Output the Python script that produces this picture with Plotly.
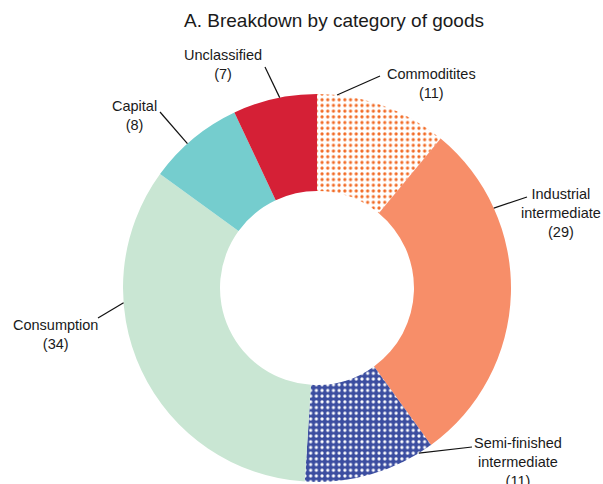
import math
import plotly.graph_objects as go

# Share of goods by category (per cent), drawn clockwise from 12 o'clock
categories = ["Commoditites", "Industrial intermediate", "Semi-finished intermediate",
              "Consumption", "Capital", "Unclassified"]
shares = [11, 29, 11, 34, 8, 7]
label_lines = [["Commoditites"], ["Industrial", "intermediate"], ["Semi-finished", "intermediate"],
               ["Consumption"], ["Capital"], ["Unclassified"]]

# Styling
W, H = 603, 484
slice_colors = ["#FFFFFF", "#F78E69", "#3B4DA0", "#C9E6D3", "#75CDCE", "#D52036"]
pattern_shapes = [".", "", ".", "", "", ""]
pattern_fg = ["#F26A24", "#F78E69", "#FFFFFF", "#C9E6D3", "#75CDCE", "#D52036"]
pattern_bg = ["#FFFFFF", "#F78E69", "#3B4DA0", "#C9E6D3", "#75CDCE", "#D52036"]
FONT = "Liberation Sans, Arial, Helvetica, sans-serif"

# Pie placement in pixels (square domain)
left, right, top, bottom = 123, 511, 94, 482
cx, cy = (left + right) / 2, (top + bottom) / 2
R = (right - left) / 2

# Where each leader line touches its slice (fraction along the slice arc)
anchor_frac = [0.15, 0.25, 0.11, 0.67, 0.42, 0.56]
# Label block centres and leader-line ends near the text (pixels)
label_centers = [(431, 84), (561, 213), (518, 462), (56, 334), (134, 115), (223, 65)]
line_ends = [(380, 76), (527, 197), (472, 447), (98, 318), (160, 112), (265, 67)]

fig = go.Figure(go.Pie(
    labels=categories,
    values=shares,
    sort=False,
    direction="clockwise",
    rotation=0,
    hole=0.5,
    textinfo="none",
    marker=dict(
        colors=slice_colors,
        line=dict(width=0),
        pattern=dict(shape=pattern_shapes, fgcolor=pattern_fg, bgcolor=pattern_bg,
                     size=5.7, solidity=0.25, fillmode="replace"),
    ),
    domain=dict(x=[left / W, right / W], y=[1 - bottom / H, 1 - top / H]),
    showlegend=False,
))

total = sum(shares)
cum = 0.0
shapes, annotations = [], []
for i, v in enumerate(shares):
    theta = 2 * math.pi * (cum + anchor_frac[i] * v) / total
    cum += v
    px = cx + R * math.sin(theta)
    py = cy - R * math.cos(theta)
    ex, ey = line_ends[i]
    shapes.append(dict(type="line", xref="paper", yref="paper",
                       x0=px / W, y0=1 - py / H, x1=ex / W, y1=1 - ey / H,
                       line=dict(color="#111111", width=1.2)))
    text = "<br>".join(label_lines[i] + [f"({v})"])
    lx, ly = label_centers[i]
    annotations.append(dict(text=text, x=lx / W, y=1 - ly / H, xref="paper", yref="paper",
                            xanchor="center", yanchor="middle", showarrow=False,
                            align="center", font=dict(family=FONT, size=14.5, color="#1a1a1a")))

fig.update_layout(
    width=W, height=H,
    margin=dict(l=0, r=0, t=0, b=0),
    paper_bgcolor="white",
    plot_bgcolor="white",
    title=dict(text="A. Breakdown by category of goods", x=334 / W, y=1 - 20 / H,
               xanchor="center", yanchor="middle",
               font=dict(family=FONT, size=19, color="#1a1a1a")),
    shapes=shapes,
    annotations=annotations,
)

fig.write_html("out.html")
